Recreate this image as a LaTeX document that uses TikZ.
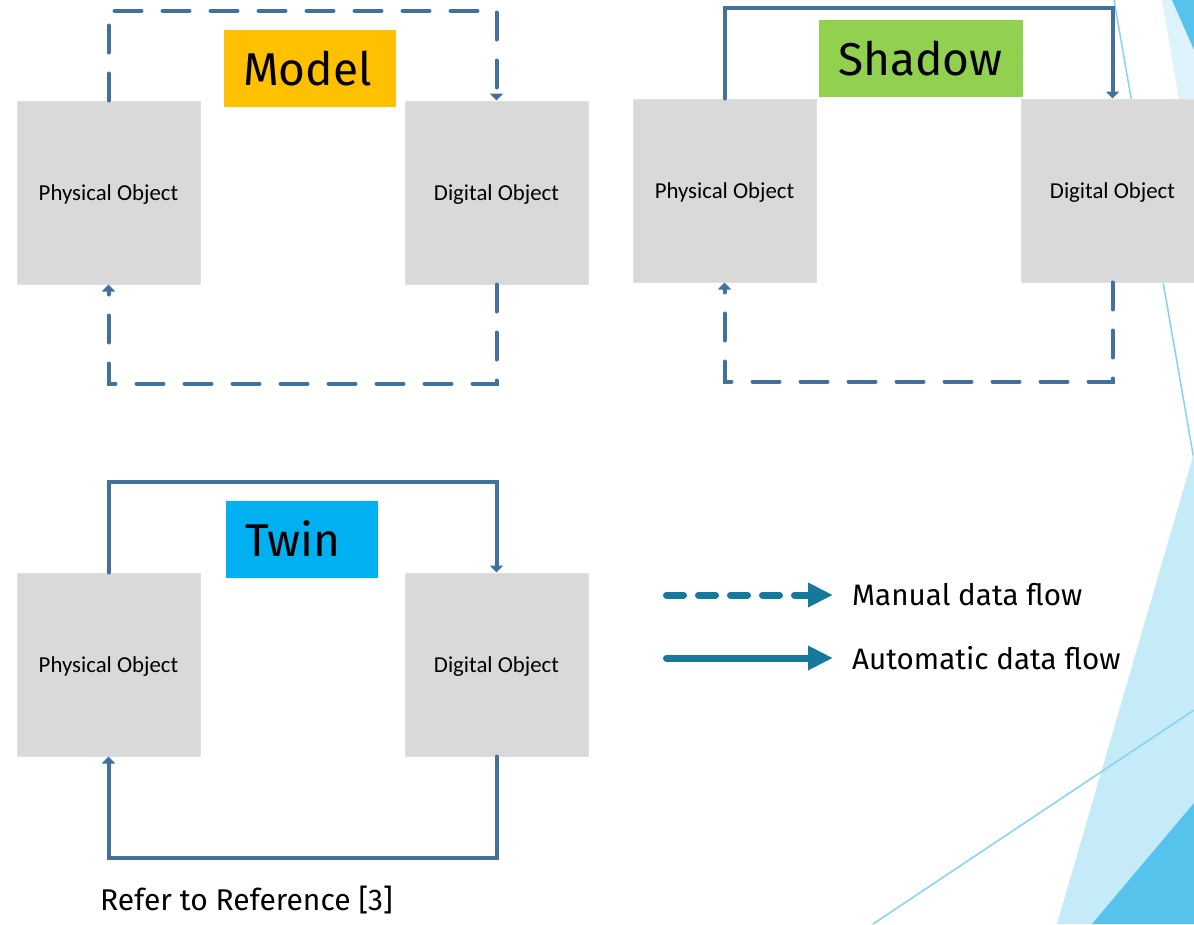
\documentclass[tikz,border=0pt]{standalone}
\usepackage{fontspec}
\setmainfont{Fira Sans}
\newfontfamily\boxfont{Carlito}
\usetikzlibrary{arrows.meta}

\definecolor{flowblue}{HTML}{41719C}
\definecolor{keyteal}{HTML}{15799B}
\definecolor{boxgray}{HTML}{D9D9D9}
\definecolor{boxedge}{HTML}{DCE0E8}
\definecolor{modelorange}{HTML}{FFC000}
\definecolor{shadowgreen}{HTML}{92D050}
\definecolor{twinblue}{HTML}{00B0F0}
\definecolor{facetpale}{HTML}{DDF2FB}
\definecolor{facetlight}{HTML}{C5EBF8}
\definecolor{facetdark}{HTML}{55C3EB}
\definecolor{facetline}{HTML}{84D3F1}

\tikzset{
  objbox/.style={fill=boxgray, draw=boxedge, line width=1pt,
    minimum width=183pt, minimum height=183pt, inner sep=0pt,
    text depth=-4pt,
    font=\boxfont\fontsize{22.8}{26}\selectfont},
  titlebox/.style={inner xsep=19pt, inner ysep=0pt, minimum height=77pt,
    align=left, font=\fontsize{46}{54}\selectfont},
  flow/.style={draw=flowblue, line width=4pt, line cap=round,
    -{Triangle[width=13pt,length=7pt]}},
  manualflow/.style={flow, dash pattern=on 27pt off 21pt},
  keyarrow/.style={draw=keyteal, line width=7pt, line cap=round,
    -{Triangle[width=23pt,length=25pt]}},
  manualkey/.style={keyarrow, dash pattern=on 17pt off 15pt},
  keytext/.style={anchor=base west, inner sep=0pt, font=\fontsize{29.6}{34}\selectfont},
}

\begin{document}
\begin{tikzpicture}[x=1pt, y=-1pt]
\useasboundingbox (0,0) rectangle (1194,924);
\clip (0,0) rectangle (1194,924);

% facet decoration on the right edge
\fill[facetpale] (1162,0) -- (1194,0) -- (1194,186) -- cycle;
\fill[facetdark] (1172,0) -- (1194,0) -- (1194,50) -- cycle;
\draw[facetline, line width=1.5pt] (1114,0) -- (1194,460);
\fill[facetlight] (1057,924) -- (1194,453) -- (1194,924) -- cycle;
\fill[facetdark] (1092,924) -- (1194,803) -- (1194,924) -- cycle;
\draw[facetline, line width=1.5pt] (873,924) -- (1194,710);

% Model
\node[objbox] (mp) at (108.5,192.5) {Physical Object};
\node[objbox] (md) at (496.5,192.5) {Digital Object};
\node[titlebox, fill=modelorange, text width=134pt] (mt) at (310,68.5) {Model};
\draw[manualflow] (mp.north) -- ++(0,-90) -| (md.north);
\draw[manualflow] (md.south) -- ++(0,99) -| (mp.south);

% Shadow
\node[objbox] (sp) at (724.5,190.5) {Physical Object};
\node[objbox] (sd) at (1112.5,190.5) {Digital Object};
\node[titlebox, fill=shadowgreen, text width=166pt] (st) at (921,58.5) {Shadow};
\draw[flow] (sp.north) -- ++(0,-91) -| (sd.north);
\draw[manualflow] (sd.south) -- ++(0,99) -| (sp.south);

% Twin
\node[objbox] (tp) at (108.5,664.5) {Physical Object};
\node[objbox] (td) at (496.5,664.5) {Digital Object};
\node[titlebox, fill=twinblue, text width=114pt] (tt) at (302,539) {Twin};
\draw[flow] (tp.north) -- ++(0,-91) -| (td.north);
\draw[flow] (td.south) -- ++(0,101) -| (tp.south);

% legend
\coordinate (mk1) at (666.5,595);
\coordinate (mk2) at (833,595);
\coordinate (ak1) at (666.5,658);
\coordinate (ak2) at (833,658);
\draw[manualkey] (mk1) -- (mk2);
\draw[keyarrow] (ak1) -- (ak2);
\node[keytext] (mlab) at (852,605) {Manual data flow};
\node[keytext] (alab) at (852,669) {Automatic data flow};

% source note
\node[keytext, font=\fontsize{30}{34}\selectfont] (ref) at (100,910) {Refer to Reference [3]};
\end{tikzpicture}
\end{document}
